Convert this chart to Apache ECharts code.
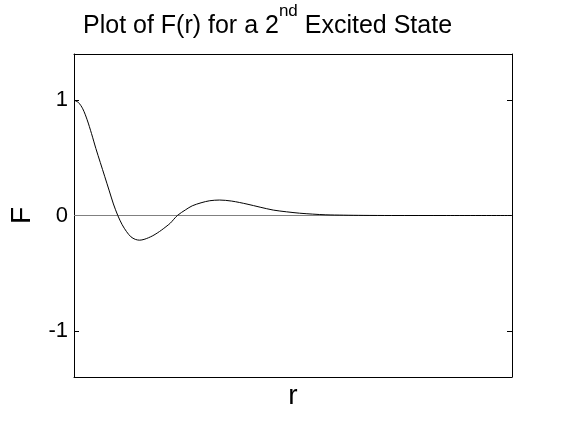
<!DOCTYPE html>
<html>
<head>
<meta charset="utf-8">
<script src="https://cdn.jsdelivr.net/npm/echarts@6/dist/echarts.min.js"></script>
<style>
  html, body { margin: 0; padding: 0; background: #fff; }
  #chart { width: 566px; height: 422px; }
</style>
</head>
<body>
<div id="chart"></div>
<script>
// values
const rValues = [0, 0.2, 0.4, 0.6, 0.8, 1.0, 1.2, 1.4, 1.6, 1.8, 2.0, 2.2, 2.4, 2.6, 2.8, 3.0,
  3.2, 3.4, 3.6, 3.8, 4.0, 4.2, 4.4, 4.72, 5.1, 5.4, 5.8, 6.2, 6.65, 7.2, 7.9, 8.5, 9.1,
  9.7, 10.3, 10.9, 11.5, 12.3, 13.2, 14.5, 17, 20]
const fValues = [1.0, 0.98, 0.925, 0.83, 0.71, 0.58, 0.46, 0.34, 0.22, 0.1, 0.0, -0.08, -0.14,
  -0.185, -0.207, -0.214, -0.207, -0.193, -0.175, -0.152, -0.126, -0.097, -0.066, 0.0, 0.05,
  0.084, 0.11, 0.128, 0.134, 0.125, 0.099, 0.072, 0.047, 0.032, 0.02, 0.012, 0.006, 0.003,
  0.001, 0, 0, 0]
const zeroR = [0, 20]
const zeroF = [0, 0]
const yTicks = [-1, 0, 1]

const font = "'Liberation Sans', Arial, sans-serif"
const chart = echarts.init(document.getElementById('chart'))

const frameLine = { show: true, onZero: false, lineStyle: { color: '#000', width: 1 } }
const yTick = { show: true, inside: true, length: 5, customValues: yTicks, lineStyle: { color: '#000' } }

chart.setOption({
  animation: false,
  backgroundColor: '#fff',
  title: {
    text: '{a|Plot of F(r) for a 2}{s|nd}{a| Excited State}',
    left: 83,
    top: 3,
    padding: 0,
    textStyle: {
      rich: {
        a: { fontFamily: font, fontSize: 25, fontWeight: 'normal', lineHeight: 46, color: '#000' },
        s: { fontFamily: font, fontSize: 17, fontWeight: 'normal', lineHeight: 17, color: '#000', verticalAlign: 'top' },
      },
    },
  },
  grid: { left: 74, right: 54, top: 54, bottom: 45, outerBoundsMode: 'none' },
  xAxis: [
    {
      type: 'value',
      min: 0,
      max: 20,
      position: 'bottom',
      name: 'r',
      nameLocation: 'middle',
      nameGap: 5,
      nameTextStyle: { fontFamily: font, fontSize: 28, color: '#000' },
      axisLine: frameLine,
      axisTick: { show: false },
      axisLabel: { show: false },
      splitLine: { show: false },
    },
    {
      type: 'value',
      min: 0,
      max: 20,
      position: 'top',
      axisLine: frameLine,
      axisTick: { show: false },
      axisLabel: { show: false },
      splitLine: { show: false },
    },
  ],
  yAxis: [
    {
      type: 'value',
      min: -1.4,
      max: 1.4,
      position: 'left',
      name: 'F',
      nameLocation: 'middle',
      nameRotate: 90,
      nameGap: 38,
      nameTextStyle: { fontFamily: font, fontSize: 28, color: '#000' },
      axisLine: frameLine,
      axisTick: yTick,
      axisLabel: { show: true, customValues: yTicks, margin: 6, fontFamily: font, fontSize: 22, color: '#000' },
      splitLine: { show: false },
    },
    {
      type: 'value',
      min: -1.4,
      max: 1.4,
      position: 'right',
      axisLine: frameLine,
      axisTick: yTick,
      axisLabel: { show: false },
      splitLine: { show: false },
    },
  ],
  series: [
    {
      type: 'line',
      z: 1,
      silent: true,
      symbol: 'none',
      data: zeroR.map((r, i) => [r, zeroF[i]]),
      lineStyle: { color: '#808080', width: 1 },
    },
    {
      type: 'line',
      z: 2,
      silent: true,
      symbol: 'none',
      smooth: 0.3,
      data: rValues.map((r, i) => [r, fValues[i]]),
      lineStyle: { color: '#000', width: 1 },
    },
  ],
})
</script>
</body>
</html>
